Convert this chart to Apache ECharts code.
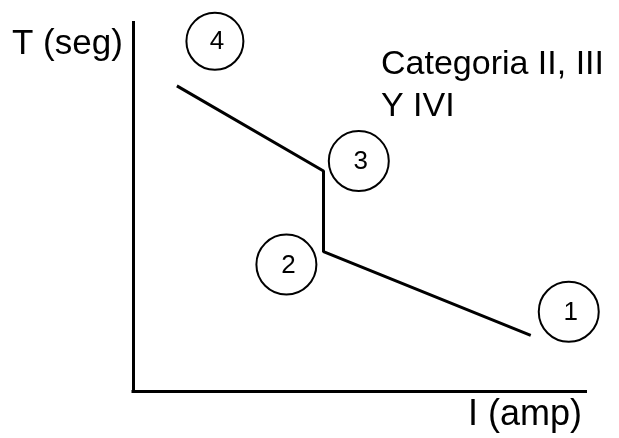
<!DOCTYPE html>
<html>
<head>
<meta charset="utf-8">
<script src="https://cdn.jsdelivr.net/npm/echarts@6/dist/echarts.min.js"></script>
<style>
html,body{margin:0;padding:0;background:#fff;}
#chart{width:619px;height:438px;}
</style>
</head>
<body>
<div id="chart"></div>
<script>
// Curve (current I vs time T), in axis units (0-100 both axes)
const curveI = [9.7, 42.1, 42.1, 87.9];
const curveT = [82.8, 59.7, 37.8, 15.1];
// Numbered markers
const markerLabels = ['1', '2', '3', '4'];
const markerI = [96.3, 33.9, 49.9, 18.1];
const markerT = [21.5, 34.3, 62.4, 94.9];
// Texts
const yAxisTitle = 'T (seg)';
const xAxisTitle = 'I (amp)';
const noteLines = ['Categoria II, III', 'Y IVI'];

const FONT = '"Liberation Sans", Arial, sans-serif';
const chart = echarts.init(document.getElementById('chart'), null, {renderer: 'canvas'});

const axisCommon = {
  type: 'value', min: 0, max: 100,
  axisLine: {show: true, onZero: false, lineStyle: {color: '#000', width: 3, cap: 'square'}},
  axisTick: {show: false}, axisLabel: {show: false}, splitLine: {show: false}
};

chart.setOption({
  animation: false,
  backgroundColor: '#fff',
  grid: {left: 133, right: 33.5, top: 22.5, bottom: 47},
  xAxis: Object.assign({}, axisCommon),
  yAxis: Object.assign({}, axisCommon),
  series: [
    {
      type: 'line',
      data: curveI.map((v, i) => [v, curveT[i]]),
      showSymbol: false, symbol: 'none',
      lineStyle: {color: '#000', width: 3},
      clip: false
    },
    {
      type: 'scatter',
      data: markerI.map((v, i) => ({value: [v, markerT[i]], name: markerLabels[i]})),
      symbol: 'circle',
      symbolSize: function (val, p) { return p.name === '4' ? 57 : 60; },
      itemStyle: {color: '#fff', borderColor: '#000', borderWidth: 2, opacity: 1},
      label: {show: true, position: 'inside', formatter: '{b}', color: '#000',
               fontSize: 26, fontFamily: FONT, offset: [2, 1]},
      clip: false
    }
  ],
  graphic: [
    {type: 'text', x: 12, y: 44.2, style: {text: yAxisTitle, font: '35px ' + FONT, fill: '#000', verticalAlign: 'middle', align: 'left'}},
    {type: 'text', x: 381, y: 65, style: {text: noteLines[0], font: '34px ' + FONT, fill: '#000', verticalAlign: 'middle', align: 'left'}},
    {type: 'text', x: 381, y: 106.7, style: {text: noteLines[1], font: '34px ' + FONT, fill: '#000', verticalAlign: 'middle', align: 'left'}},
    {type: 'text', x: 468, y: 414.7, style: {text: xAxisTitle, font: '36px ' + FONT, fill: '#000', verticalAlign: 'middle', align: 'left'}}
  ]
});
</script>
</body>
</html>
